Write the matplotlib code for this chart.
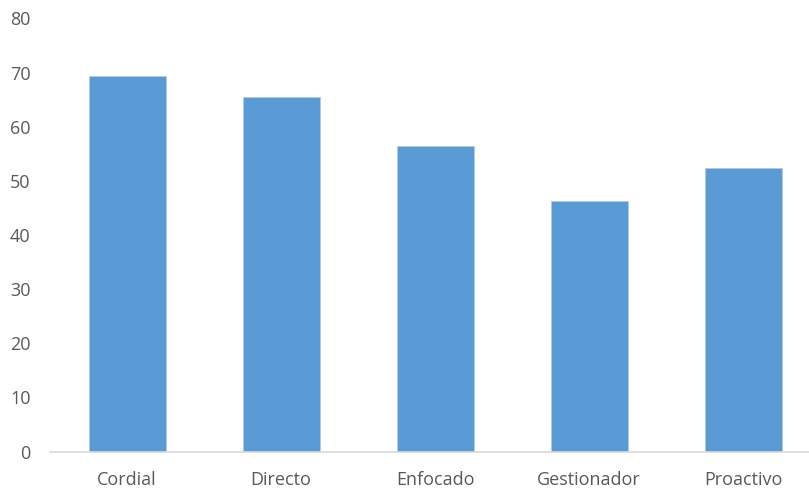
import matplotlib.pyplot as plt
import numpy as np

categorias = ['Cordial', 'Directo', 'Enfocado', 'Gestionador', 'Proactivo']
valores = [69.4, 65.5, 56.4, 46.3, 52.4]

plt.rcParams['font.family'] = ['Open Sans', 'DejaVu Sans']

fig = plt.figure(figsize=(8.09, 4.94), dpi=100)
ax = fig.add_axes([50 / 809, 42.5 / 494, 770 / 809, 433 / 494])

x = np.arange(len(categorias))
ax.bar(x, valores, width=0.5, color='#5B9BD5', edgecolor='#b8c8d8', linewidth=0.6)

ax.set_xlim(-0.5, len(categorias) - 0.5)
ax.set_ylim(0, 80)
ax.set_yticks(range(0, 81, 10))
ax.set_xticks(x)
ax.set_xticklabels(categorias)

for s in ['top', 'right', 'left']:
    ax.spines[s].set_visible(False)
ax.spines['bottom'].set_color('#D9D9D9')
ax.spines['bottom'].set_linewidth(1.2)
ax.tick_params(axis='both', length=0, labelsize=13, colors='#595959')
ax.tick_params(axis='y', pad=14)
ax.tick_params(axis='x', pad=14)

fig.savefig('out.png', dpi=100)
